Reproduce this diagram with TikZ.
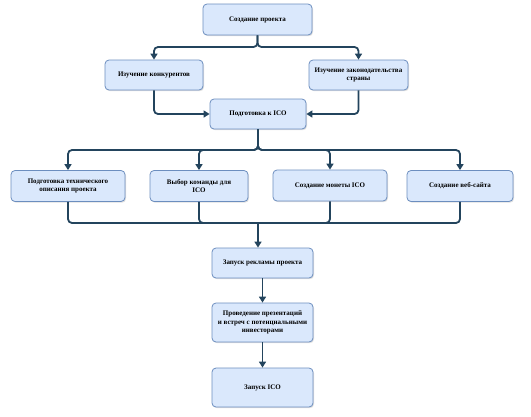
\documentclass[tikz,border=0pt]{standalone}
\usepackage{fontspec}
\setmainfont{Liberation Serif}
\usetikzlibrary{arrows.meta,shadows}

\definecolor{boxfill}{HTML}{DAE8FC}
\definecolor{boxline}{HTML}{6C8EBF}
\definecolor{arrcol}{HTML}{23445D}

\begin{document}
\begin{tikzpicture}[x=1pt, y=-1pt,
    box/.style={draw=boxline, fill=boxfill, rounded corners=4pt, line width=0.8pt,
        align=center, font=\fontsize{7}{8.5}\selectfont\bfseries, inner sep=2pt,
        drop shadow={shadow xshift=1pt, shadow yshift=-1.2pt, opacity=0.25}},
    arr/.style={draw=arrcol, line width=1.8pt, rounded corners=4pt,
        -{Triangle[length=6pt,width=7pt]}},
    ln/.style={draw=arrcol, line width=1.8pt, rounded corners=4pt}]
    \useasboundingbox (0,0) rectangle (531,416);

    % Boxes
    \node[box, minimum width=109pt, minimum height=31pt] (start) at (257.5,19.5) {Создание проекта};
    \node[box, minimum width=98pt, minimum height=30pt] (rivals) at (154,75) {Изучение конкурентов};
    \node[box, minimum width=99pt, minimum height=30pt] (law) at (358.5,75) {Изучение законодательства\\страны};
    \node[box, minimum width=96pt, minimum height=30pt] (prep) at (258,114) {Подготовка к ICO};

    \node[box, minimum width=114pt, minimum height=31pt] (paper) at (68,186) {Подготовка технического\\описания проекта};
    \node[box, minimum width=98pt, minimum height=31pt] (team) at (199,186) {Выбор команды для\\ICO};
    \node[box, minimum width=114pt, minimum height=31pt] (coin) at (330,185.5) {Создание монеты ICO};
    \node[box, minimum width=106pt, minimum height=31pt] (site) at (460,186) {Создание веб-сайта};

    \node[box, minimum width=101pt, minimum height=30pt] (ads) at (262.5,263) {Запуск рекламы проекта};
    \node[box, minimum width=101pt, minimum height=39pt] (meet) at (262.5,322.5) {Проведение презентаций\\и встреч с потенциальными\\инвесторами};
    \node[box, minimum width=101pt, minimum height=39pt] (launch) at (262.5,387.5) {Запуск ICO};

    % Split and merge points
    \coordinate (s1) at (257.5,47);
    \coordinate (s2) at (258,150);
    \coordinate (m) at (258,223);

    % Arrows
    \draw[arr] (start.south) -- (s1) -| (rivals.north);
    \draw[arr] (start.south) -- (s1) -| (law.north);
    \draw[arr] (rivals.south) |- (prep.west);
    \draw[arr] (law.south) |- (prep.east);

    \foreach \n in {paper,team,coin,site}
        \draw[arr] (prep.south) -- (s2) -| (\n.north);
    \foreach \n in {paper,team,coin,site}
        \draw[ln] (\n.south) |- (m);

    \draw[arr] (m) -- (m |- ads.north);
    \draw[arr] (ads) -- (meet);
    \draw[arr] (meet) -- (launch);
\end{tikzpicture}
\end{document}
